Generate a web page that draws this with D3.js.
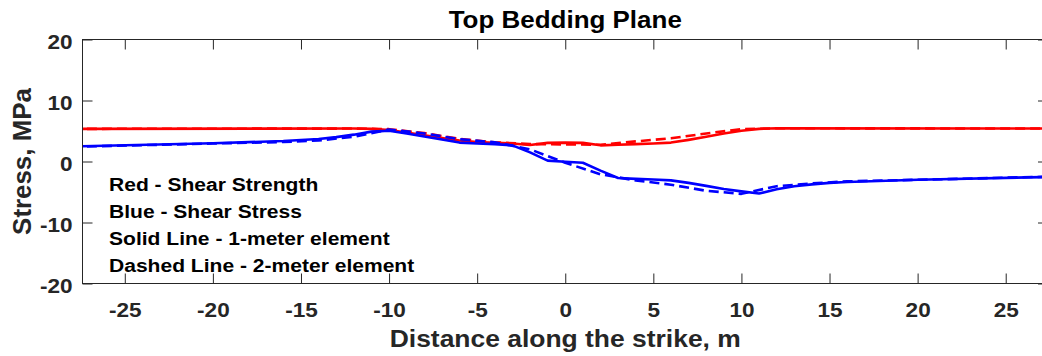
<!DOCTYPE html>
<html>
<head>
<meta charset="utf-8">
<script src="https://cdn.jsdelivr.net/npm/d3@7"></script>
<style>
  html, body { margin: 0; padding: 0; background: #fff; }
  svg { display: block; }
  text { font-family: "Liberation Sans", Arial, Helvetica, sans-serif; font-weight: bold; }
</style>
</head>
<body>
<svg id="chart" width="1042" height="356"></svg>
<script>
// Shear strength (red) and shear stress (blue) along the strike, top bedding plane.
// Solid = 1-meter element model, dashed = 2-meter element model.

const strengthSolidX = [-28, -12, -11, -10, -9, -8, -7, -6, -5, -4, -3, -2, -1, 0, 1, 2, 3, 4, 5, 6, 7, 8, 9, 10, 11, 12, 28];
const strengthSolidY = [5.35, 5.4, 5.35, 5.15, 4.75, 4.3, 3.85, 3.45, 3.2, 3.05, 2.95, 2.7, 3.05, 3.1, 3.05, 2.65, 2.75, 2.85, 2.95, 3.1, 3.55, 4.05, 4.6, 5.05, 5.35, 5.45, 5.4];

const strengthDashedX = [-28, -12, -10, -8, -6, -4, -2, 0, 2, 4, 6, 8, 10, 12, 28];
const strengthDashedY = [5.35, 5.4, 5.3, 4.65, 3.7, 3.15, 2.85, 2.8, 2.75, 3.3, 3.8, 4.6, 5.3, 5.45, 5.4];

const stressSolidX = [-28, -20, -16, -14, -13, -12, -11, -10, -9, -8, -7, -6, -5, -4, -3, -2, -1, 0, 1, 2, 3, 4, 5, 6, 7, 8, 9, 10, 11, 12, 13, 14, 15, 16, 20, 28];
const stressSolidY = [2.45, 3.0, 3.35, 3.7, 4.0, 4.4, 4.9, 5.05, 4.6, 4.1, 3.6, 3.1, 2.95, 2.85, 2.65, 1.5, 0.15, -0.05, -0.2, -1.5, -2.7, -2.85, -2.95, -3.1, -3.5, -4.0, -4.5, -4.9, -5.25, -4.55, -4.05, -3.75, -3.5, -3.35, -3.0, -2.5];

const stressDashedX = [-28, -20, -16, -14, -12, -10, -8, -6, -4, -2, 0, 2, 4, 6, 8, 10, 12, 14, 16, 20, 28];
const stressDashedY = [2.4, 2.95, 3.2, 3.45, 4.05, 5.25, 4.6, 3.65, 3.15, 2.0, -0.2, -2.1, -3.1, -3.8, -4.8, -5.3, -4.05, -3.6, -3.25, -3.0, -2.45];

const xTicks = [-25, -20, -15, -10, -5, 0, 5, 10, 15, 20, 25];
const yTicks = [-20, -10, 0, 10, 20];

const legendLines = [
  "Red - Shear Strength",
  "Blue - Shear Stress",
  "Solid Line - 1-meter element",
  "Dashed Line - 2-meter element"
];

const titleText = "Top Bedding Plane";
const xLabelText = "Distance along the strike, m";
const yLabelText = "Stress, MPa";

// ---- layout ----
const svg = d3.select("#chart");
const plotLeft = 82.5, plotRight = 1048, plotTop = 39.5, plotBottom = 283.5;
const axisColor = "#262626";

const x = d3.scaleLinear().domain([-27.4, 27.4]).range([plotLeft, plotRight]);
const y = d3.scaleLinear().domain([-20, 20]).range([plotBottom, plotTop]);

svg.append("defs").append("clipPath").attr("id", "plotClip")
  .append("rect").attr("x", plotLeft).attr("y", plotTop)
  .attr("width", plotRight - plotLeft).attr("height", plotBottom - plotTop);

// ---- data lines ----
const line = d3.line().x(d => x(d[0])).y(d => y(d[1]));
const zip = (xs, ys) => xs.map((v, i) => [v, ys[i]]);

const series = [
  { xs: strengthSolidX,  ys: strengthSolidY,  color: "#ff0000", dash: null },
  { xs: strengthDashedX, ys: strengthDashedY, color: "#ff0000", dash: "10,5" },
  { xs: stressSolidX,    ys: stressSolidY,    color: "#0000ff", dash: null },
  { xs: stressDashedX,   ys: stressDashedY,   color: "#0000ff", dash: "10,5" }
];

const plot = svg.append("g").attr("clip-path", "url(#plotClip)");
plot.selectAll("path.series").data(series).join("path")
  .attr("class", "series")
  .attr("d", s => line(zip(s.xs, s.ys)))
  .attr("fill", "none")
  .attr("stroke", s => s.color)
  .attr("stroke-width", 2.6)
  .attr("stroke-linejoin", "round")
  .attr("stroke-dasharray", s => s.dash);

// ---- axes (inward ticks on all four sides) ----
const fmt = d => String(d);
const tickLen = 10;

const gBottom = svg.append("g").attr("transform", `translate(0,${plotBottom})`)
  .call(d3.axisBottom(x).tickValues(xTicks).tickSize(-tickLen).tickFormat(fmt));
const gTop = svg.append("g").attr("transform", `translate(0,${plotTop})`)
  .call(d3.axisTop(x).tickValues(xTicks).tickSize(-tickLen).tickFormat(""));
const gLeft = svg.append("g").attr("transform", `translate(${plotLeft},0)`)
  .call(d3.axisLeft(y).tickValues(yTicks).tickSize(-tickLen).tickFormat(fmt));
const gRight = svg.append("g").attr("transform", `translate(${plotRight},0)`)
  .call(d3.axisRight(y).tickValues(yTicks).tickSize(-tickLen).tickFormat(""));

[gBottom, gTop, gLeft, gRight].forEach(g => {
  g.select(".domain").remove();
  g.selectAll(".tick line").attr("stroke", axisColor).attr("stroke-width", 1);
});

// tick labels: slightly widened bold sans
gBottom.selectAll(".tick text")
  .attr("x", null).attr("y", null).attr("dy", null)
  .attr("transform", "translate(0,33) scale(1.1,1)")
  .attr("text-anchor", "middle")
  .attr("fill", axisColor)
  .style("font-size", "20.5px");

gLeft.selectAll(".tick text")
  .attr("x", null).attr("y", null).attr("dy", null)
  .attr("transform", "translate(-10,9) scale(1.1,1)")
  .attr("text-anchor", "end")
  .attr("fill", axisColor)
  .style("font-size", "20.5px");

// box
svg.append("rect")
  .attr("x", plotLeft).attr("y", plotTop)
  .attr("width", plotRight - plotLeft).attr("height", plotBottom - plotTop)
  .attr("fill", "none").attr("stroke", axisColor).attr("stroke-width", 1);

// ---- titles ----
svg.append("text")
  .attr("transform", `translate(${(plotLeft + plotRight) / 2},28) scale(1.06,1)`)
  .attr("text-anchor", "middle")
  .attr("fill", "#000")
  .style("font-size", "24.5px")
  .text(titleText);

svg.append("text")
  .attr("transform", `translate(${(plotLeft + plotRight) / 2},346.5) scale(1.15,1)`)
  .attr("text-anchor", "middle")
  .attr("fill", axisColor)
  .style("font-size", "23px")
  .text(xLabelText);

svg.append("text")
  .attr("transform", `translate(31,${(plotTop + plotBottom) / 2}) rotate(-90)`)
  .attr("text-anchor", "middle")
  .attr("fill", axisColor)
  .style("font-size", "25.9px")
  .text(yLabelText);

// ---- annotation block ----
svg.append("g").selectAll("text").data(legendLines).join("text")
  .attr("transform", (d, i) => `translate(109,${190.5 + i * 27}) scale(1.15,1)`)
  .attr("fill", "#000")
  .style("font-size", "18.3px")
  .text(d => d);
</script>
</body>
</html>
